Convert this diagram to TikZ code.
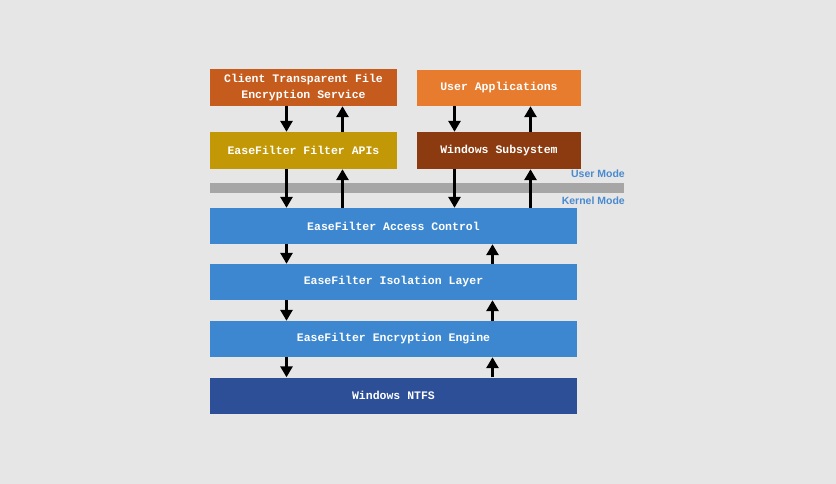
\documentclass[tikz,border=0pt]{standalone}
\usepackage{fontspec}
\newfontfamily\boxfont{Liberation Mono}
\newfontfamily\modefont{Liberation Sans}
\usetikzlibrary{arrows.meta}
\definecolor{bgray}{HTML}{E6E6E6}
\definecolor{barcol}{HTML}{A6A6A6}
\definecolor{clientcol}{HTML}{C55B1C}
\definecolor{appcol}{HTML}{E77B2E}
\definecolor{apicol}{HTML}{C39807}
\definecolor{subcol}{HTML}{8B3B0F}
\definecolor{easeblue}{HTML}{3C87CF}
\definecolor{ntfscol}{HTML}{2C4F98}
\definecolor{modecol}{HTML}{4A8AD0}
\begin{document}
\begin{tikzpicture}
[x=1pt,y=-1pt,
 box/.style={rectangle, draw=none, text=white, inner sep=0pt,
   font=\boxfont\bfseries\fontsize{11.5}{15.5}\selectfont, align=center},
 arr/.style={line width=3pt, -{Triangle[width=12pt,length=11pt]}},
 modelabel/.style={anchor=east, inner sep=0pt, text=modecol, font=\modefont\bfseries\fontsize{10.5}{12}\selectfont}]
\def \layerw {367}
\def \layerh {36}
\useasboundingbox[fill=bgray] (0,0) rectangle (836,484);
% user mode boxes
\node[box, fill=clientcol, minimum width=187pt, minimum height=37pt] (client) at (303.5,87.5) {Client Transparent File\\Encryption Service};
\node[box, fill=apicol, minimum width=187pt, minimum height=37pt] (apis) at (303.5,150.5) {EaseFilter Filter APIs};
\node[box, fill=appcol, minimum width=164pt, minimum height=36pt] (userapp) at (499,88) {User Applications};
\node[box, fill=subcol, minimum width=164pt, minimum height=37pt] (subsys) at (499,150.5) {Windows Subsystem};
% mode separator
\fill[barcol] (210,183) rectangle (624,193);
\node[modelabel] (umode) at (625,174) {User Mode};
\node[modelabel] (kmode) at (625,201) {Kernel Mode};
% kernel layers
\foreach \name/\y/\txt/\col in {access/226/EaseFilter Access Control/easeblue,
  isolation/282/EaseFilter Isolation Layer/easeblue,
  engine/339/EaseFilter Encryption Engine/easeblue,
  ntfs/395.5/Windows NTFS/ntfscol}
{
  \node[box, fill=\col, minimum width=\layerw pt, minimum height=\layerh pt] (\name) at (393.5,\y) {\txt};
}
\coordinate (cdown) at (286.5,0);
\coordinate (cup) at (342.5,0);
\coordinate (wdown) at (454.5,0);
\coordinate (wup) at (530.5,0);
\coordinate (kup) at (492.5,0);
\draw[arr] (client.south -| cdown) -- (apis.north -| cdown);
\draw[arr] (apis.north -| cup) -- (client.south -| cup);
\draw[arr] (userapp.south -| wdown) -- (subsys.north -| wdown);
\draw[arr] (subsys.north -| wup) -- (userapp.south -| wup);
\draw[arr] (apis.south -| cdown) -- (access.north -| cdown);
\draw[arr] (access.north -| cup) -- (apis.south -| cup);
\draw[arr] (subsys.south -| wdown) -- (access.north -| wdown);
\draw[arr] (access.north -| wup) -- (subsys.south -| wup);
\draw[arr] (access.south -| cdown) -- (isolation.north -| cdown);
\draw[arr] (isolation.north -| kup) -- (access.south -| kup);
\draw[arr] (isolation.south -| cdown) -- (engine.north -| cdown);
\draw[arr] (engine.north -| kup) -- (isolation.south -| kup);
\draw[arr] (engine.south -| cdown) -- (ntfs.north -| cdown);
\draw[arr] (ntfs.north -| kup) -- (engine.south -| kup);
\end{tikzpicture}
\end{document}
